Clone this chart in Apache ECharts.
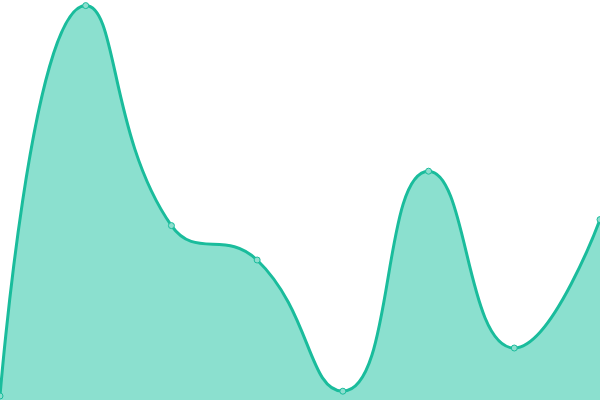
<!DOCTYPE html>
<html>
<head>
<meta charset="utf-8">
<script src="https://cdn.jsdelivr.net/npm/echarts@6/dist/echarts.min.js"></script>
<style>html,body{margin:0;padding:0;background:#fff}#c{width:600px;height:400px}</style>
</head>
<body>
<div id="c"></div>
<script>
const categories = ['A', 'B', 'C', 'D', 'E', 'F', 'G', 'H'];
const values = [1, 98.6, 43.6, 35, 2.2, 57.2, 13, 45.1];

const chart = echarts.init(document.getElementById('c'));
chart.setOption({
  animation: false,
  grid: { left: 0, right: 0, top: 0, bottom: 0 },
  xAxis: { type: 'category', data: categories, boundaryGap: false, show: false },
  yAxis: { type: 'value', min: 0, max: 100, show: false },
  series: [{
    type: 'line',
    data: values,
    smooth: true,
    symbol: 'circle',
    symbolSize: 6,
    lineStyle: { color: '#1abc9c', width: 3 },
    itemStyle: { color: '#8ddece', borderColor: '#1abc9c', borderWidth: 1 },
    areaStyle: { color: '#8be0cf', opacity: 1 }
  }]
});
</script>
</body>
</html>
